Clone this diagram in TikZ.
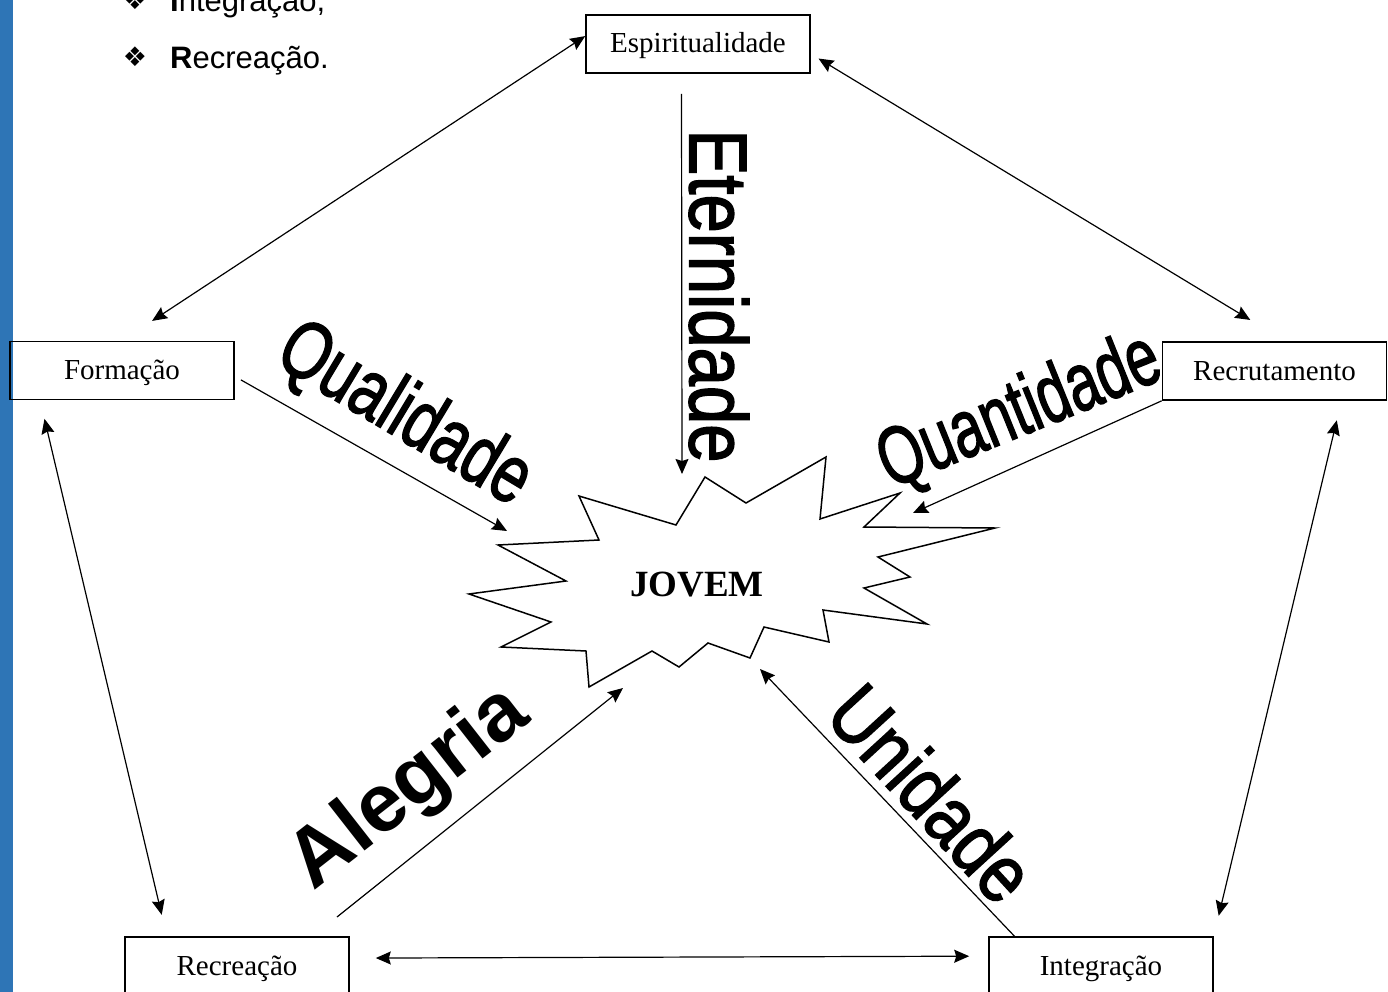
\documentclass[tikz,border=0pt]{standalone}
\usepackage{fontspec}
\setmainfont{Liberation Serif}
\newfontfamily\arialfont{Liberation Sans}
\newfontfamily\arialgrossa{Liberation Sans}[FakeBold=2]
\newfontfamily\simbolo{DejaVu Sans}
\usetikzlibrary{arrows.meta,calc}
\definecolor{barraazul}{RGB}{46,117,182}
\def\ponta{Stealth[length=15pt, width=13pt, inset=2pt]}

\begin{document}
\begin{tikzpicture}[x=1pt, y=-1pt,
		caixa/.style={draw, line width=1.6pt, minimum width=224pt, minimum height=58pt, inner sep=0pt, text height=21pt, text depth=3pt, font=\fontsize{29}{32}\selectfont},
		seta/.style={line width=1.2pt, -{\ponta}},
		dupla/.style={line width=1.2pt, {\ponta}-{\ponta}},
		palavra/.style={inner sep=0pt, font=\arialgrossa\fontsize{82}{90}\selectfont},
		item/.style={anchor=base west, inner sep=0pt, font=\arialfont\fontsize{31}{36}\selectfont},
		marca/.style={inner sep=0pt, font=\simbolo\fontsize{27}{27}\selectfont}]
			%%%%% START %%%%%
			\useasboundingbox (0, 0) rectangle (1388, 992);
			\clip (0, 0) rectangle (1388, 992);
			
			\fill[barraazul] (0, 0) rectangle (12.7, 992);
			
			\node[marca] (marca1) at (135, 0) {❖};
			\node[item] (item1) at (170, 12) {\textbf{I}ntegração,};
			\node[marca] (marca2) at (135, 57) {❖};
			\node[item] (item2) at (170, 69) {\textbf{R}ecreação.};
			
			\node[caixa] (esp) at (698, 44) {Espiritualidade};
			\node[caixa] (form) at (122, 370.5) {Formação};
			\node[caixa] (recr) at (1274.5, 371) {Recrutamento};
			\node[caixa] (recre) at (237, 966) {Recreação};
			\node[caixa] (integ) at (1101, 966) {Integração};
			
			%%%%% JOVEM %%%%%
			\draw[line width=1.5pt, line join=miter] (705, 477) -- (746, 503) -- (826, 457) -- (820, 519) -- (900, 493) -- (864, 527) -- (995, 528) -- (878, 557) -- (910, 577) -- (864, 588) -- (927, 624) -- (823, 610) -- (829, 642) -- (764, 627) -- (750, 658) -- (708, 643) -- (679, 667) -- (652, 651) -- (589, 687) -- (586, 651) -- (501, 647) -- (551, 622) -- (469, 594) -- (566, 581) -- (498, 545) -- (599, 540) -- (579, 496) -- (676, 525) -- cycle;
			\node[font=\bfseries\fontsize{37}{40}\selectfont] (jovem) at (697, 585) {JOVEM};
			
			\coordinate (tipqual) at (507, 531);
			\coordinate (tipeter) at (682, 474);
			\coordinate (tipquant) at (913, 513);
			\coordinate (basealeg) at (337, 917);
			\coordinate (tipaleg) at (623, 688);
			\coordinate (tipunid) at (760, 669);
			
			%%%%% ciclo %%%%%
			\draw[dupla, shorten >=36pt] (esp.176) -- (form.north);
			\draw[dupla, shorten <=9pt, shorten >=41pt] (esp.-5) -- (recr.70);
			\draw[dupla, shorten <=19pt, shorten >=22pt] (form.200) -- (recre.157);
			\draw[dupla, shorten <=20pt, shorten >=21pt] (recr.-24) -- (integ.north east);
			\draw[dupla, shorten <=26pt, shorten >=19pt] (recre.4.6) -- (integ.175.4);
			
			%%%%% ao jovem %%%%%
			\draw[seta, shorten <=7pt] (form.-3) -- (tipqual);
			\draw[seta, shorten <=20pt] (esp.241) -- (tipeter);
			\draw[seta] (recr.south west) -- (tipquant);
			\draw[seta] (basealeg) -- (tipaleg);
			\draw[seta] (integ.161.4) -- (tipunid);
			
			\node[palavra, rotate=-90, xscale=0.84] (eter) at (719, 296) {Eternidade};
			\node[palavra, rotate=-31, xscale=0.75] (qual) at (404, 416) {Qualidade};
			\node[palavra, rotate=22, xscale=0.70] (quant) at (1020, 413) {Quantidade};
			\node[palavra, font=\arialfont\bfseries\fontsize{82}{90}\selectfont, rotate=38] (aleg) at (410, 789) {Alegria};
			\node[palavra, rotate=-47.5, xscale=0.85] (unid) at (932, 793) {Unidade};
			
			%%%%% END %%%%%
		\end{tikzpicture}
\end{document}
